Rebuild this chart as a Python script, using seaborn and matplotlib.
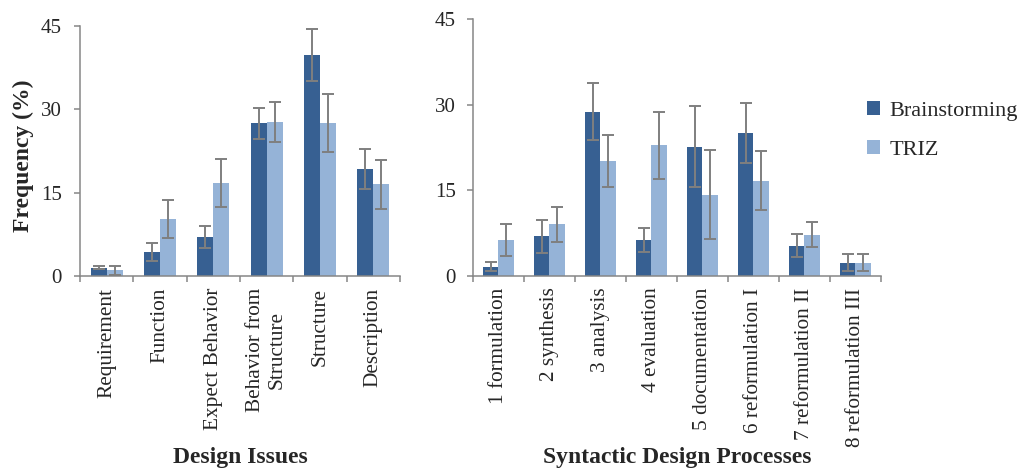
import matplotlib
matplotlib.use("Agg")
import matplotlib.pyplot as plt
import matplotlib.patches as mpatches
from matplotlib.ticker import FixedLocator
import numpy as np
import pandas as pd
import seaborn as sns

# ---- data -------------------------------------------------------------
groups = ["Brainstorming", "TRIZ"]

issues = ["Requirement", "Function", "Expect Behavior",
          "Behavior from\nStructure", "Structure", "Description"]
issues_brain = [1.5, 4.3, 7.0, 27.5, 39.8, 19.3]
issues_brain_err = [0.3, 1.6, 2.0, 2.8, 4.7, 3.6]
issues_triz = [1.0, 10.2, 16.8, 27.8, 27.5, 16.5]
issues_triz_err = [0.8, 3.4, 4.3, 3.6, 5.2, 4.4]

processes = ["1 formulation", "2 synthesis", "3 analysis", "4 evaluation",
             "5 documentation", "6 reformulation I", "7 reformulation II",
             "8 reformulation III"]
proc_brain = [1.6, 6.9, 28.8, 6.3, 22.6, 25.0, 5.3, 2.3]
proc_brain_err = [0.8, 2.9, 5.0, 2.1, 7.1, 5.3, 2.0, 1.5]
proc_triz = [6.3, 9.0, 20.1, 22.9, 14.2, 16.7, 7.2, 2.3]
proc_triz_err = [2.8, 3.0, 4.6, 5.9, 7.8, 5.1, 2.2, 1.5]

y_ticks = [0, 15, 30, 45]

# ---- style ------------------------------------------------------------
sns.set_style("white")
plt.rcParams["font.family"] = ["Liberation Serif", "DejaVu Serif"]

colors = ["#376092", "#95B3D7"]
axis_gray = "#868686"
err_gray = "#7F7F7F"


def long_frame(cats, a, b):
    return pd.DataFrame({
        "category": list(cats) * 2,
        "group": [groups[0]] * len(cats) + [groups[1]] * len(cats),
        "value": list(a) + list(b),
    })


def draw_panel(ax, cats, a, a_err, b, b_err, ypad):
    df = long_frame(cats, a, b)
    sns.barplot(data=df, x="category", y="value", hue="group",
                order=cats, hue_order=groups, palette=colors,
                width=0.6, gap=0, errorbar=None, legend=False,
                saturation=1, ax=ax, linewidth=0)
    errs = [a_err, b_err]
    vals = [a, b]
    bar_containers = list(ax.containers)
    for h, cont in enumerate(bar_containers):
        for bar in cont.patches:
            xc = bar.get_x() + bar.get_width() / 2
            i = int(round(xc))
            ax.errorbar(xc, vals[h][i], yerr=errs[h][i], fmt="none",
                        ecolor=err_gray, elinewidth=1.4, capsize=4.5,
                        capthick=1.4, zorder=5)
    n = len(cats)
    ax.set_xlim(-0.5, n - 0.5)
    ax.set_ylim(0, 45)
    ax.set_yticks(y_ticks)
    ax.set_xlabel("")
    ax.set_ylabel("")
    ax.set_xticks(range(n))
    ax.set_xticklabels(cats, rotation=90, ha="center", va="top",
                       multialignment="center")
    ax.xaxis.set_minor_locator(FixedLocator(np.arange(-0.5, n, 1.0)))
    ax.tick_params(axis="x", which="major", bottom=True, length=0,
                   pad=8.5, labelsize=15.3)
    ax.tick_params(axis="x", which="minor", bottom=True, length=4.5,
                   width=1.1, color=axis_gray, direction="out")
    ax.tick_params(axis="y", which="major", left=True, length=4,
                   width=1.1, color=axis_gray, direction="out", pad=ypad,
                   labelsize=15)
    for side in ["top", "right"]:
        ax.spines[side].set_visible(False)
    for side in ["left", "bottom"]:
        ax.spines[side].set_color(axis_gray)
        ax.spines[side].set_linewidth(1.1)


fig = plt.figure(figsize=(10.24, 4.72), dpi=100)
ax1 = fig.add_axes([80 / 1024, (472 - 276) / 472, 320 / 1024, 250 / 472])
ax2 = fig.add_axes([472.7 / 1024, (472 - 275.7) / 472, 408.3 / 1024, 256.4 / 472])

draw_panel(ax1, issues, issues_brain, issues_brain_err,
           issues_triz, issues_triz_err, ypad=9)
draw_panel(ax2, processes, proc_brain, proc_brain_err,
           proc_triz, proc_triz_err, ypad=8)

# axis titles
fig.text(240 / 1024, 1 - 458 / 472, "Design Issues", ha="center",
         va="center", fontsize=17, fontweight="bold")
fig.text(677 / 1024, 1 - 458 / 472, "Syntactic Design Processes",
         ha="center", va="center", fontsize=17, fontweight="bold")
fig.text(23 / 1024, 1 - 156 / 472, "Frequency (%)", rotation=90,
         ha="center", va="center", fontsize=17, fontweight="bold")

# legend
handles = [mpatches.Patch(facecolor=c, edgecolor="none", label=g)
           for c, g in zip(colors, groups)]
fig.legend(handles=handles, loc="upper left",
           bbox_to_anchor=(858 / 1024, 1 - 92 / 472), frameon=False,
           fontsize=16, handlelength=0.6, handleheight=0.6,
           handletextpad=0.4, labelspacing=0.85, borderaxespad=0)

fig.savefig("out.png", dpi=100)
